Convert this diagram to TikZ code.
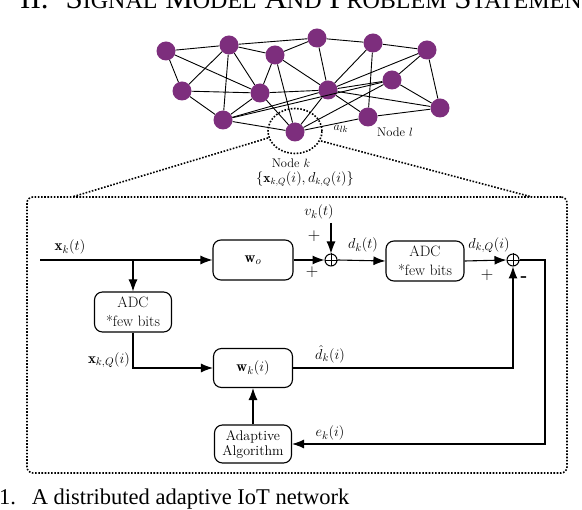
\documentclass[tikz,border=0pt]{standalone}
\usepackage{fontspec}
\usepackage{amsmath}
\newfontfamily\timesfont{Liberation Serif}
\usetikzlibrary{arrows.meta,shapes.geometric}
\definecolor{nodepurple}{RGB}{125,46,125}
\newcommand{\fakesc}[2]{#1{\fontsize{24}{24}\selectfont #2}}
\begin{document}
\begin{tikzpicture}[x=1pt,y=-1pt,
  nn/.style={circle, fill=nodepurple, minimum size=19pt, inner sep=0pt},
  ed/.style={line width=0.9pt},
  dotline/.style={line width=1.6pt, dash pattern=on 1.6pt off 1.6pt},
  blk/.style={draw, rounded corners=8pt, line width=1.1pt, align=center, inner sep=1pt,
    font=\fontsize{15}{17}\selectfont},
  con/.style={line width=1.1pt},
  arr/.style={con, -{Latex[length=12pt,width=9pt]}},
  sumnode/.style={circle, draw, line width=1pt, minimum size=12pt, inner sep=0pt},
  lbl/.style={font=\fontsize{15}{17}\selectfont, inner sep=0pt},
  sgn/.style={font=\fontsize{18}{18}\selectfont, inner sep=0pt},
  nlbl/.style={font=\fontsize{12.5}{14}\selectfont, inner sep=0pt}
]
\useasboundingbox (0,0) rectangle (582,510);

% texts cut by the border
\node[anchor=base west, inner sep=0pt] (title) at (20,9)
  {\timesfont\fontsize{31}{31}\selectfont II.\hspace{0.55em}\fakesc{S}{IGNAL} \fakesc{M}{ODEL} \fakesc{A}{ND} \fakesc{P}{ROBLEM} \fakesc{S}{TATEMENT}};
\node[anchor=base west, inner sep=0pt] (caption) at (-1,505)
  {\timesfont\fontsize{22.5}{22.5}\selectfont 1.\hspace{0.7em}A distributed adaptive IoT network};

% network
\node[nn] (n1) at (166,51) {};
\node[nn] (n2) at (229,45) {};
\node[nn] (n3) at (275,55) {};
\node[nn] (n4) at (317,38) {};
\node[nn] (n5) at (373,43) {};
\node[nn] (n6) at (427,50) {};
\node[nn] (n7) at (182,91) {};
\node[nn] (n8) at (260,93) {};
\node[nn] (n9) at (328,90) {};
\node[nn] (n10) at (392,80) {};
\node[nn] (n11) at (440,108) {};
\node[nn] (n12) at (223,120) {};
\node[nn] (n13) at (368,117) {};
\node[nn] (nk) at (295,132) {};

\foreach \a/\b in {n1/n2,n1/n7,n1/n8,n2/n4,n2/n3,n2/n7,n2/n12,n2/n8,n3/n4,n3/n8,n3/nk,n3/n9,
  n7/n8,n7/n12,n8/n12,n8/nk,n8/n9,n12/n9,n12/n10,n12/nk,n4/n5,n4/n9,n5/n6,n5/n13,n5/n9,
  n6/n9,n6/n10,n6/n11,n9/n10,n9/n11,n9/n13,n9/nk,n10/nk,n10/n11,n13/nk,n13/n11}
  \draw[ed] (\a) -- (\b);

\node[ellipse, draw, dotline, minimum width=54pt, minimum height=45pt, inner sep=0pt] (kc) at (295,131) {};
\node[nlbl] (alk) at (341,129) {$a_{lk}$};
\node[nlbl] (nodel) at (395,132) {Node $l$};
\node[nlbl] (nodek) at (291,163) {Node $k$};
\node[nlbl, font=\fontsize{13.5}{15}\selectfont] (kset) at (305,179) {$\{\mathbf{x}_{k,Q}(i), d_{k,Q}(i)\}$};

% frame
\node[draw, dotline, rounded corners=6pt, minimum width=540pt, minimum height=276pt, inner sep=0pt] (frame) at (297,335) {};
\coordinate (kl) at (268,138);
\coordinate (kr) at (321,141);
\coordinate (fl) at (72,197);
\coordinate (fr) at (532,197);
\draw[dotline] (kl) -- (fl);
\draw[dotline] (kr) -- (fr);

% block diagram
\node[blk, minimum width=80pt, minimum height=40pt] (wo) at (253,260) {$\mathbf{w}_o$};
\node[blk, minimum width=77pt, minimum height=40pt] (adc1) at (133,312) {ADC\\[2pt]*few bits};
\node[blk, minimum width=79pt, minimum height=39pt] (wk) at (253,368) {$\mathbf{w}_k(i)$};
\node[blk, minimum width=77pt, minimum height=38pt, font=\fontsize{14}{15}\selectfont] (alg) at (253,444) {Adaptive\\Algorithm};
\node[blk, minimum width=78pt, minimum height=40pt] (adc2) at (425,261) {ADC\\[2pt]*few bits};
\node[sumnode] (s1) at (331,260) {};
\node[sumnode] (s2) at (513,260) {};
\draw[line width=0.8pt] (s1.north) -- (s1.south) (s1.west) -- (s1.east);
\draw[line width=0.8pt] (s2.north) -- (s2.south) (s2.west) -- (s2.east);

\coordinate (xin) at (40,260);
\coordinate (br) at (133,260);
\coordinate (vtop) at (331,223);
\coordinate (rc) at (545,260);

\draw[arr] (xin) -- (wo.west);
\draw[arr] (br) -- (adc1.north);
\draw[arr] (adc1.south) |- (wk.west);
\draw[arr] (wo.east) -- (s1.west);
\draw[arr] (vtop) -- (s1.north);
\draw[arr] (s1.east) -- (adc2.west);
\draw[arr] (adc2.east) -- (s2.west);
\draw[arr] (wk.east) -| (s2.south);
\draw[arr] (s2.east) -- (rc) |- (alg.east);
\draw[arr] (alg.north) -- (wk.south);

\node[lbl] (lxk) at (70,247) {$\mathbf{x}_k(t)$};
\node[lbl] (lxq) at (109,360) {$\mathbf{x}_{k,Q}(i)$};
\node[lbl] (lvk) at (319,212) {$v_k(t)$};
\node[lbl] (ldk) at (363,245) {$d_k(t)$};
\node[lbl] (ldq) at (489,245) {$d_{k,Q}(i)$};
\node[lbl] (ldh) at (330,354) {$\hat{d}_k(i)$};
\node[lbl] (lek) at (330,433) {$e_k(i)$};
\node[sgn] (p1) at (314,236) {$+$};
\node[sgn] (p2) at (312,272) {$+$};
\node[sgn] (p3) at (487,275) {$+$};
\node[sgn] (m1) at (524,279) {\textbf{-}};
\end{tikzpicture}
\end{document}
